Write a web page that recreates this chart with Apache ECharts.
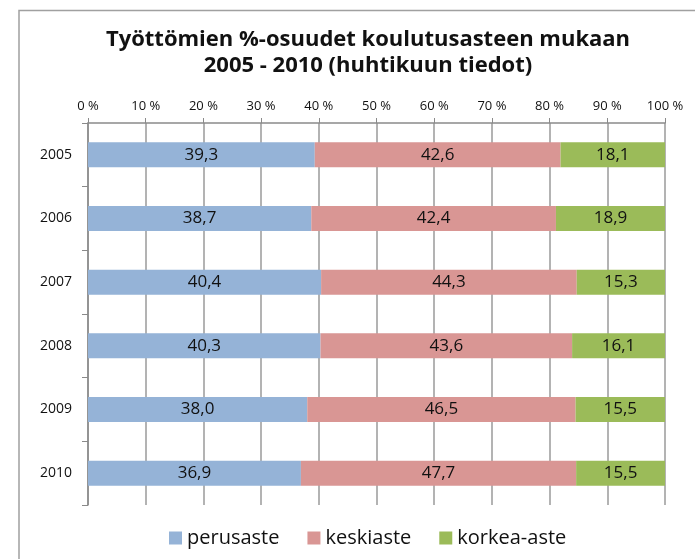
<!DOCTYPE html>
<html>
<head>
<meta charset="utf-8">
<script src="https://cdn.jsdelivr.net/npm/echarts@6/dist/echarts.min.js"></script>
<style>
html, body { margin: 0; padding: 0; background: #fff; }
#main { width: 695px; height: 559px; }
</style>
</head>
<body>
<div id="main"></div>
<script>
var years = ['2005', '2006', '2007', '2008', '2009', '2010'];
var perusaste = [39.3, 38.7, 40.4, 40.3, 38.0, 36.9];
var keskiaste = [42.6, 42.4, 44.3, 43.6, 46.5, 47.7];
var korkea = [18.1, 18.9, 15.3, 16.1, 15.5, 15.5];

var fontFam = '"Open Sans", "Noto Sans", sans-serif';

function lbl(p) {
    return p.value.toFixed(1).replace('.', ',');
}

function bar(name, data, color) {
    return {
        name: name,
        type: 'bar',
        stack: 'tot',
        barWidth: 25,
        data: data,
        itemStyle: { color: color },
        label: {
            show: true,
            position: 'inside',
            formatter: lbl,
            color: '#111',
            fontSize: 17,
            fontFamily: fontFam
        }
    };
}

var chart = echarts.init(document.getElementById('main'));
chart.setOption({
    animation: false,
    title: {
        text: 'Työttömien %-osuudet koulutusasteen mukaan\n2005 - 2010 (huhtikuun tiedot)',
        left: 363,
        textAlign: 'center',
        top: 22,
        textStyle: {
            fontFamily: fontFam,
            fontWeight: 'bold',
            fontSize: 22,
            lineHeight: 26,
            color: '#111'
        }
    },
    graphic: [{
        type: 'polyline',
        shape: { points: [[19, 600], [19, 10.5], [700, 10.5]] },
        style: { stroke: '#a0a0a0', lineWidth: 1.5, fill: null }
    }],
    legend: {
        bottom: 6,
        left: 164,
        itemWidth: 13,
        itemHeight: 13,
        itemGap: 28,
        icon: 'rect',
        textStyle: { fontSize: 20, fontFamily: fontFam, color: '#111' },
        data: ['perusaste', 'keskiaste', 'korkea-aste']
    },
    grid: { left: 88, right: 30, top: 123, bottom: 54 },
    xAxis: {
        type: 'value',
        position: 'top',
        min: 0,
        max: 100,
        interval: 10,
        axisLine: { show: true, lineStyle: { color: '#8a8a8a', width: 1.5 } },
        axisTick: { show: true, length: 5, lineStyle: { color: '#8a8a8a' } },
        splitLine: { show: true, lineStyle: { color: '#9a9a9a', width: 1.5 } },
        axisLabel: {
            formatter: '{value} %',
            fontSize: 13,
            fontFamily: fontFam,
            color: '#111',
            margin: 10
        }
    },
    yAxis: {
        type: 'category',
        inverse: true,
        data: years,
        axisLine: { show: true, lineStyle: { color: '#8a8a8a', width: 1.5 } },
        axisTick: { show: true, length: 6, lineStyle: { color: '#8a8a8a' } },
        axisLabel: { fontSize: 14, fontFamily: fontFam, color: '#111', margin: 16 }
    },
    series: [
        bar('perusaste', perusaste, '#95b3d7'),
        bar('keskiaste', keskiaste, '#d99694'),
        bar('korkea-aste', korkea, '#9bbb59')
    ]
});
</script>
</body>
</html>
